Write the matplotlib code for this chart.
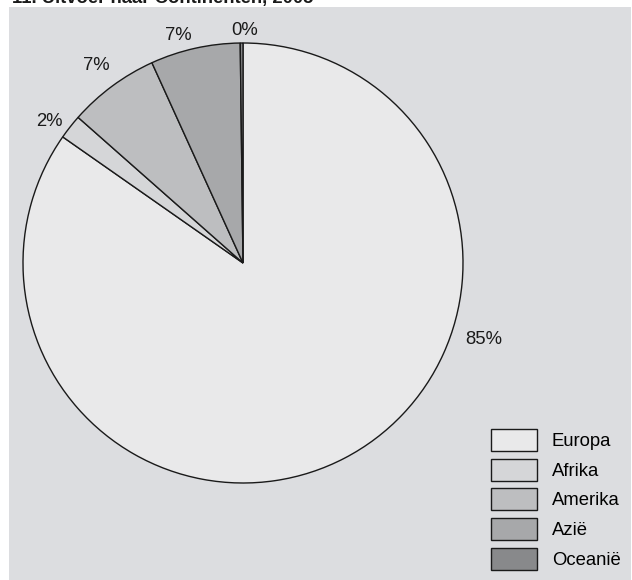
import matplotlib
matplotlib.use("Agg")
import matplotlib.pyplot as plt
from matplotlib.patches import Rectangle, Patch
import numpy as np

plt.rcParams['font.family'] = ['Liberation Sans', 'DejaVu Sans']

title = "11. Uitvoer naar Continenten, 2005"
categories = ["Europa", "Afrika", "Amerika", "Azië", "Oceanië"]
values = [84.8, 1.8, 6.7, 6.6, 0.2]
pct_labels = ["85%", "2%", "7%", "7%", "0%"]
colors = ["#e9e9ea", "#d5d6d8", "#bdbec0", "#a7a8aa", "#88898b"]

# label placement style (angle shift from wedge middle in degrees, distance in radii)
label_shift = [44.9, 2.0, 0.2, 3.2, -0.7]
label_dist = [1.15, 1.092, 1.118, 1.075, 1.059]

W, H = 632, 580
fig = plt.figure(figsize=(W / 100, H / 100), dpi=100)
fig.patch.set_facecolor("white")
bg = Rectangle((9 / W, 0), 622 / W, 573 / H, transform=fig.transFigure,
               facecolor="#dcdde0", edgecolor="none", zorder=-5)
fig.patches.append(bg)

fig.text(12 / W, 1 - 3.5 / H, title, fontsize=13.3, fontweight="bold", ha="left",
         va="baseline", color="#1a1a1a")

cx, cy, r = 243, 580 - 263, 220
ax = fig.add_axes([(cx - r) / W, (cy - r) / H, 2 * r / W, 2 * r / H])
ax.set_zorder(1)

wedges, _ = ax.pie(values, colors=colors, startangle=90, counterclock=False, radius=1,
                   wedgeprops=dict(edgecolor="#1a1a1a", linewidth=1.0))
ax.set_xlim(-1, 1)
ax.set_ylim(-1, 1)
ax.axis("off")

for w, lab, sh, d in zip(wedges, pct_labels, label_shift, label_dist):
    ang = (w.theta1 + w.theta2) / 2 + sh
    x, y = d * np.cos(np.radians(ang)), d * np.sin(np.radians(ang))
    ax.text(x, y, lab, ha="center", va="center", fontsize=13.3, color="#1a1a1a")

handles = [Patch(facecolor=c, edgecolor="#1a1a1a", linewidth=1.0) for c in colors]
leg = fig.legend(handles, categories, loc="upper left", bbox_to_anchor=(491 / W, 1 - 429 / H),
                 frameon=False, fontsize=13.3, handlelength=2.5, handleheight=1.45,
                 labelspacing=0.42, handletextpad=0.8, borderpad=0, borderaxespad=0)
leg.set_zorder(2)

fig.savefig("out.png", dpi=100)
